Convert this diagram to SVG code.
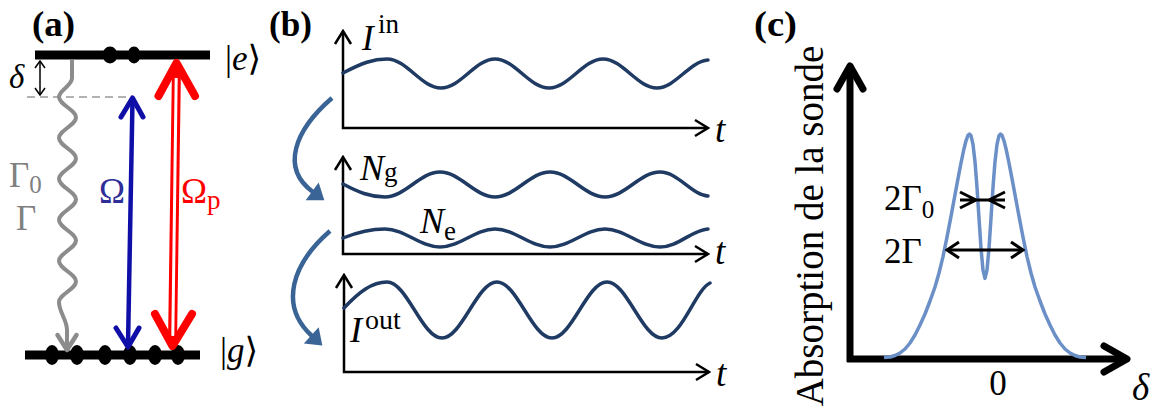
<svg xmlns="http://www.w3.org/2000/svg" width="1159" height="412" viewBox="0 0 1159 412">
<style>
.txt{font-family:"Liberation Serif","DejaVu Serif",serif;fill:#000}
.it{font-style:italic}
.bold{font-weight:bold}
.ax{fill:none;stroke:#000;stroke-width:2.5}
.wave{fill:none;stroke:#1f3a63;stroke-width:3.5;stroke-linecap:round}
.flow{fill:none;stroke:#3a6496;stroke-width:4.5}
.lvl{stroke:#000;stroke-width:9}
</style>
<defs>
<marker id="chev" markerUnits="userSpaceOnUse" viewBox="-15 -10 17 20" markerWidth="17" markerHeight="20" refX="0" refY="0" orient="auto-start-reverse">
<path d="M-13,-8 L0,0 L-13,8" fill="none" stroke="#000" stroke-width="2.5"/>
</marker>
<marker id="chevS" markerUnits="userSpaceOnUse" viewBox="-9 -7 10 14" markerWidth="10" markerHeight="14" refX="0" refY="0" orient="auto-start-reverse">
<path d="M-7,-5 L0,0 L-7,5" fill="none" stroke="#000" stroke-width="1.5"/>
</marker>
<marker id="chevC" markerUnits="userSpaceOnUse" viewBox="-28 -18 32 36" markerWidth="32" markerHeight="36" refX="0" refY="0" orient="auto">
<path d="M-23,-13 L0,0 L-23,13" fill="none" stroke="#000" stroke-width="7" stroke-linecap="round" stroke-linejoin="round"/>
</marker>
<marker id="chevM" markerUnits="userSpaceOnUse" viewBox="-14 -10 16 20" markerWidth="16" markerHeight="20" refX="0" refY="0" orient="auto-start-reverse">
<path d="M-12,-8 L0,0 L-12,8" fill="none" stroke="#000" stroke-width="3"/>
</marker>
<marker id="tri" markerUnits="userSpaceOnUse" viewBox="-1 -12 18 24" markerWidth="18" markerHeight="24" refX="1" refY="0" orient="auto">
<path d="M0,-11 L15,0 L0,11 Z" fill="#3a6496"/>
</marker>
</defs>

<!-- Panel (a) -->
<g id="label-a"><text class="txt bold" x="32" y="36" font-size="35" textLength="43" lengthAdjust="spacingAndGlyphs">(a)</text></g>
<g id="level-e">
<line class="lvl" x1="35" y1="55" x2="210" y2="55"/>
<ellipse cx="110" cy="55" rx="7.5" ry="8.5"/>
<ellipse cx="134" cy="55" rx="6.5" ry="8.5"/>
<text class="txt" x="225" y="70" font-size="35">|<tspan class="it">e</tspan>⟩</text>
</g>
<g id="level-g">
<line class="lvl" x1="25" y1="355" x2="200" y2="355"/>
<ellipse cx="52" cy="355" rx="7" ry="10"/>
<ellipse cx="77" cy="355" rx="7" ry="10"/>
<ellipse cx="105" cy="355" rx="7" ry="10"/>
<ellipse cx="130" cy="355" rx="7" ry="10"/>
<ellipse cx="155" cy="355" rx="7" ry="10"/>
<ellipse cx="178" cy="355" rx="7" ry="10"/>
<text class="txt" x="220" y="362" font-size="35">|<tspan class="it">g</tspan>⟩</text>
</g>
<g id="detuning">
<line x1="27" y1="97" x2="133" y2="97" stroke="#999" stroke-width="1.5" stroke-dasharray="8,5"/>
<line x1="40" y1="61" x2="40" y2="95" stroke="#000" stroke-width="1.5" marker-start="url(#chevS)" marker-end="url(#chevS)"/>
<text class="txt it" x="9" y="88" font-size="33">δ</text>
</g>
<g id="connectors-a">
<path d="M72,60 L72,78 C72,86 59,90 59,97 C59,104.5 76,110 76,117.5 C76,125 59,130.5 59,138 C59,145.5 76,151 76,158.5 C76,166 59,171.5 59,179 C59,186.5 76,192 76,199.5 C76,207 59,212.5 59,220 C59,227.5 76,233 76,240.5 C76,248 59,253.5 59,261 C59,268.5 76,274 76,281.5 C76,289 59,294.5 59,302 C59,312 67,320 67,330 L67,348" fill="none" stroke="#8c8c8c" stroke-width="4"/>
<path d="M57.5,335 L67,350 L76.5,335" fill="none" stroke="#8c8c8c" stroke-width="4.5" stroke-linecap="round" stroke-linejoin="round"/>
<line x1="132.5" y1="100" x2="128" y2="345" stroke="#0f0fa8" stroke-width="4.5"/>
<path d="M121,117 L132.5,98 L143,117" fill="none" stroke="#0f0fa8" stroke-width="5" stroke-linecap="round" stroke-linejoin="round"/>
<path d="M116,328 L128,347 L139,328" fill="none" stroke="#0f0fa8" stroke-width="5" stroke-linecap="round" stroke-linejoin="round"/>
<line x1="176.5" y1="66" x2="172.5" y2="344" stroke="#ff0000" stroke-width="9"/>
<line x1="176.2" y1="78" x2="172.8" y2="336" stroke="#fff" stroke-width="3"/>
<path d="M158.5,96 L176.5,63 L195,96" fill="none" stroke="#ff0000" stroke-width="8" stroke-linecap="round" stroke-linejoin="round"/>
<path d="M155,314 L172.5,346 L192,314" fill="none" stroke="#ff0000" stroke-width="8" stroke-linecap="round" stroke-linejoin="round"/>
</g>
<g id="rates">
<text class="txt" x="9" y="187" font-size="35" style="fill:#808080">Γ<tspan font-size="25" dy="6">0</tspan></text>
<text class="txt" x="16" y="230" font-size="35" style="fill:#808080">Γ</text>
<text class="txt" x="99" y="203" font-size="35" style="fill:#2e2e98">Ω</text>
<text class="txt" x="181" y="203" font-size="35" style="fill:#ff0000">Ω<tspan font-size="27" dy="6">p</tspan></text>
</g>

<!-- Panel (b) -->
<g id="label-b"><text class="txt bold" x="269" y="36" font-size="35" textLength="43" lengthAdjust="spacingAndGlyphs">(b)</text></g>
<g id="plot-in">
<path class="ax" d="M343,31 L343,128 L708,128" marker-start="url(#chev)" marker-end="url(#chev)"/>
<path class="wave" d="M343,73 C362,63 373,59 387,59 C406.7,59 421.3,88 441,88 C460.7,88 475.3,59 495,59 C514.7,59 529.3,88 549,88 C568.7,88 583.3,59 603,59 C622.7,59 637.3,88 657,88 C675,88 690,61 708,60"/>
<text class="txt it" x="362" y="50" font-size="35">I</text>
<text class="txt" x="378" y="33" font-size="27">in</text>
<text class="txt it" x="715" y="142" font-size="37">t</text>
</g>
<g id="plot-pop">
<path class="ax" d="M343,157 L343,254 L708,254" marker-start="url(#chev)" marker-end="url(#chev)"/>
<path class="wave" d="M343,184 C358,192 370,197 385,197 C405,197 420,172 440,172 C460,172 475,197 495,197 C515,197 530,172 550,172 C570,172 585,197 605,197 C625,197 640,172 660,172 C678,172 692,195 708,196"/>
<path class="wave" d="M343,238 C358,232 370,229 385,229 C405,229 420,247 440,247 C460,247 475,229 495,229 C515,229 530,247 550,247 C570,247 585,229 605,229 C625,229 640,247 660,247 C678,247 692,230 708,229"/>
<text class="txt it" x="360" y="180" font-size="36">N<tspan font-style="normal" font-size="27" dy="1">g</tspan></text>
<text class="txt it" x="420" y="233" font-size="36">N<tspan font-style="normal" font-size="27" dy="7">e</tspan></text>
<text class="txt it" x="715" y="264" font-size="37">t</text>
</g>
<g id="plot-out">
<path class="ax" d="M344,275 L344,372 L709,372" marker-start="url(#chev)" marker-end="url(#chev)"/>
<path class="wave" d="M344,308 C359,292 372,282 387,282 C407,282 422,338 442,338 C462,338 477,282 497,282 C517,282 532,338 552,338 C572,338 587,282 607,282 C627,282 642,338 662,338 C682,338 695,290 710,283"/>
<text class="txt it" x="350" y="342" font-size="36">I</text>
<text class="txt" x="365" y="329" font-size="28">out</text>
<text class="txt it" x="716" y="386" font-size="37">t</text>
</g>
<g id="connectors-b">
<path class="flow" d="M332,98 C295,130 280,168 313,192" marker-end="url(#tri)"/>
<path class="flow" d="M330,231 C293,263 278,305 312,336" marker-end="url(#tri)"/>
</g>

<!-- Panel (c) -->
<g id="label-c"><text class="txt bold" x="754" y="36" font-size="35" textLength="43" lengthAdjust="spacingAndGlyphs">(c)</text></g>
<g id="plot-abs">
<path d="M850,362 L850,66" stroke="#000" stroke-width="7" fill="none" marker-end="url(#chevC)"/>
<path d="M847,359 L1127,359" stroke="#000" stroke-width="7" fill="none" marker-end="url(#chevC)"/>
<path d="M884,357.5 L890,357 L895,355.5 L900,353 L905,349 L910,343 L915,335 L920,325 L925,314 L930,301 L935,287 L939,273 L943,256.6 L947,237.1 L951,216.3 L955,194.8 L958,178.6 L961,163 L964,148.7 L966,140.8 L968,135.4 L969.5,134 L971,135.6 L973,144.4 L975,161.7 L977,187.3 L979,218.1 L981,248.1 L983,270.2 L985,278.4 L987,270.2 L989,248.1 L991,218.1 L993,187.3 L995,161.7 L997,144.4 L999,135.6 L1000.5,134 L1002,135.4 L1004,140.8 L1006,148.7 L1009,163 L1012,178.6 L1015,194.8 L1019,216.3 L1023,237.1 L1027,256.6 L1031,273 L1035,287 L1040,301 L1045,314 L1050,325 L1055,335 L1060,343 L1065,349 L1070,353 L1075,355.5 L1080,357 L1086,357.5" fill="none" stroke="#6b8fc7" stroke-width="3.5" stroke-linejoin="round"/>
<text class="txt" transform="translate(823,226) rotate(-90)" text-anchor="middle" font-size="39">Absorption de la sonde</text>
<text class="txt" x="998" y="395" text-anchor="middle" font-size="35">0</text>
<text class="txt it" x="1132" y="400" font-size="37">δ</text>
</g>
<g id="widths">
<path d="M960,200 L1005,200 M960,192 L976,200 L960,208 M1005,192 L989,200 L1005,208" fill="none" stroke="#000" stroke-width="3"/>
<line x1="947" y1="250" x2="1023" y2="250" stroke="#000" stroke-width="3" marker-start="url(#chevM)" marker-end="url(#chevM)"/>
<text class="txt" x="884" y="210" font-size="35">2Γ<tspan font-size="25" dy="8">0</tspan></text>
<text class="txt" x="884" y="263" font-size="35">2Γ</text>
</g>
</svg>
